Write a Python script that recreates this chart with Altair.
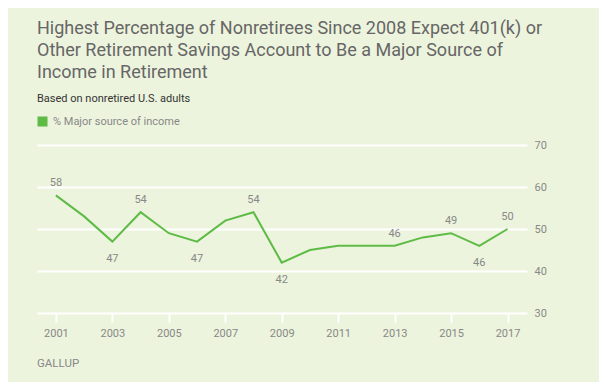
import altair as alt
import pandas as pd

years = list(range(2001, 2018))
values = [58, 53, 47, 54, 49, 47, 52, 54, 42, 45, 46, 46, 46, 48, 49, 46, 50]
label_pos = ["above", "", "below", "above", "", "below", "", "above", "below",
             "", "", "", "above", "", "above", "below", "above"]
series_name = "% Major source of income"
title_lines = [
    "Highest Percentage of Nonretirees Since 2008 Expect 401(k) or",
    "Other Retirement Savings Account to Be a Major Source of",
    "Income in Retirement",
]
subtitle = "Based on nonretired U.S. adults"
source = "GALLUP"
x_ticks = [2001, 2003, 2005, 2007, 2009, 2011, 2013, 2015, 2017]
y_ticks = [30, 40, 50, 60, 70]

df = pd.DataFrame({"year": years, "value": values, "pos": label_pos,
                   "series": [series_name] * len(years)})

GREEN = "#5dbb46"
BG = "#edf4dd"
FONT = "Roboto"

x = alt.X("year:Q", scale=alt.Scale(domain=[2000.33, 2017.69], nice=False, zero=False),
          axis=alt.Axis(values=x_ticks, format="d", title=None, grid=False, domain=False,
                        ticks=True, tickColor="white", tickWidth=2, tickSize=9,
                        labelColor="#888888", labelFontSize=11, labelFont=FONT,
                        labelPadding=5))
y = alt.Y("value:Q", scale=alt.Scale(domain=[30, 70], nice=False, zero=False),
          axis=alt.Axis(values=y_ticks, orient="right", title=None, grid=True,
                        gridColor="white", gridWidth=2, gridOpacity=1,
                        domain=False, ticks=False, labelColor="#888888",
                        labelFontSize=11, labelFont=FONT, labelPadding=7))

base = alt.Chart(df)

line = base.mark_line(strokeWidth=2).encode(
    x=x, y=y,
    color=alt.Color("series:N", scale=alt.Scale(domain=[series_name], range=[GREEN]),
                    legend=alt.Legend(title=None, orient="none", legendX=0, legendY=-29,
                                      symbolType="square", symbolSize=100,
                                      symbolStrokeWidth=0, symbolFillColor=GREEN,
                                      labelColor="#888888", labelFontSize=11,
                                      labelFont=FONT, labelOffset=5)),
)

above = base.transform_filter(alt.datum.pos == "above").mark_text(
    baseline="bottom", dy=-7, fontSize=11, font=FONT, color="#888888"
).encode(x="year:Q", y="value:Q", text="value:Q")

below = base.transform_filter(alt.datum.pos == "below").mark_text(
    baseline="top", dy=11, fontSize=11, font=FONT, color="#888888"
).encode(x="year:Q", y="value:Q", text="value:Q")

gallup = alt.Chart(pd.DataFrame({"t": [source]})).mark_text(
    align="left", baseline="middle", fontSize=11.5, font=FONT, color="#888888"
).encode(x=alt.value(0), y=alt.value(219), text="t:N")

chart = alt.layer(line, above, below, gallup).properties(
    width=490, height=168,
    autosize=alt.AutoSizeParams(type="none"),
    padding={"left": 29, "top": 137, "right": 72, "bottom": 69},
    background=BG,
    title=alt.TitleParams(
        text=title_lines, subtitle=subtitle, anchor="start", frame="group",
        font=FONT, fontSize=18, fontWeight="normal", color="#666666", lineHeight=22,
        subtitleFont=FONT, subtitleFontSize=11, subtitleColor="#333333",
        subtitlePadding=11, offset=12,
    ),
).configure_view(stroke=None)

chart.save("out.html", embed_options={"renderer": "svg", "actions": False})
